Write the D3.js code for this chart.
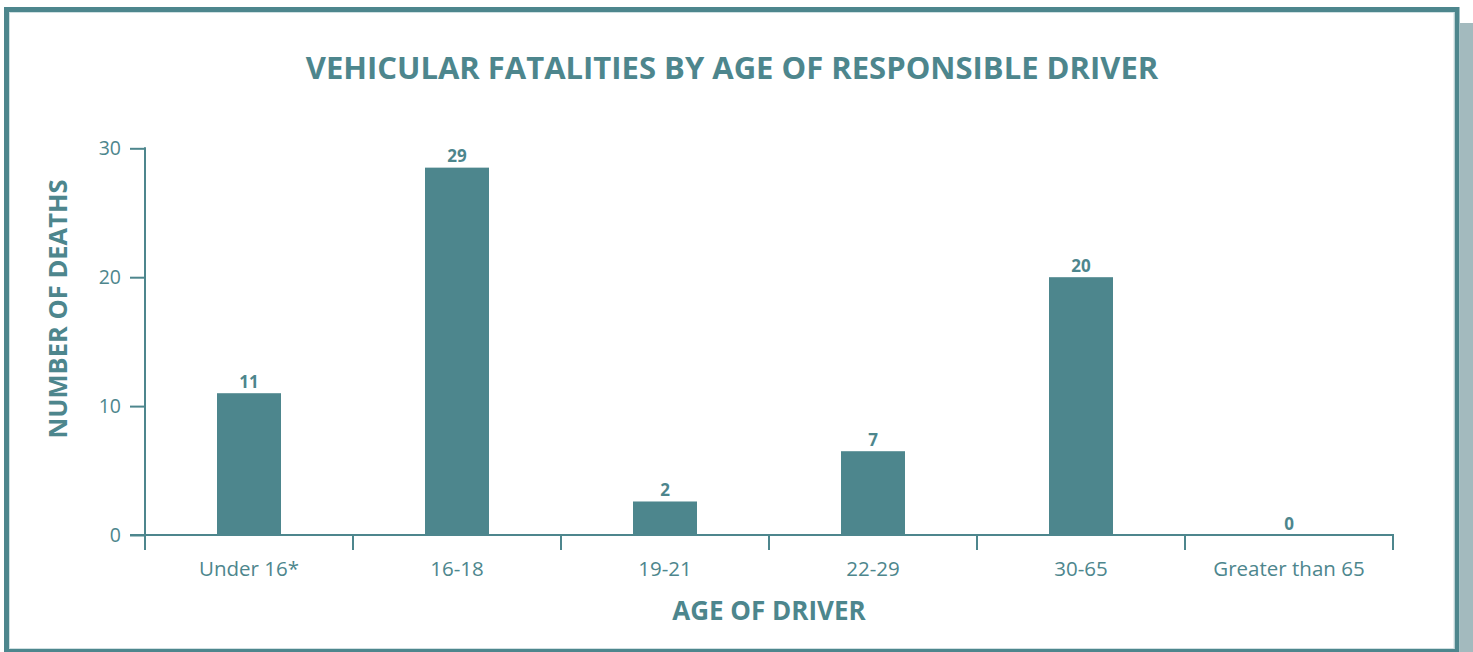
<!DOCTYPE html>
<html>
<head>
<meta charset="utf-8">
<script src="https://cdn.jsdelivr.net/npm/d3@7"></script>
<style>
  html, body { margin: 0; padding: 0; background: #ffffff; }
  svg { display: block; }
  text { font-family: "Open Sans", "Noto Sans", sans-serif; }
</style>
</head>
<body>
<svg id="chart" width="1473" height="652"></svg>
<script>
// ---- data ----
const categories = ["Under 16*", "16-18", "19-21", "22-29", "30-65", "Greater than 65"];
const barHeights = [11, 28.5, 2.6, 6.5, 20, 0];        // heights as drawn
const valueLabels = ["11", "29", "2", "7", "20", "0"];  // printed labels
const yTicks = [0, 10, 20, 30];
const titleText = "VEHICULAR FATALITIES BY AGE OF RESPONSIBLE DRIVER";
const xTitle = "AGE OF DRIVER";
const yTitle = "NUMBER OF DEATHS";

const teal = "#4d868d";
const svg = d3.select("#chart");

// frame + shadow
svg.append("rect").attr("x", 1460).attr("y", 23).attr("width", 13).attr("height", 629).attr("fill", "#a3babe");
svg.append("rect").attr("x", 6.5).attr("y", 9.5).attr("width", 1450.5).attr("height", 642)
  .attr("fill", "#ffffff").attr("stroke", teal).attr("stroke-width", 5);
svg.append("rect").attr("x", 9.5).attr("y", 12.5).attr("width", 1444.5).attr("height", 636)
  .attr("fill", "none").attr("stroke", "#cfe0e2").attr("stroke-width", 1);

// scales
const x = d3.scaleBand().domain(categories).range([145, 1393]).padding(0);
const y = d3.scaleLinear().domain([0, 30]).range([535, 148.3]);
const barW = 64;

// title
svg.append("text").attr("x", 732).attr("y", 79).attr("text-anchor", "middle")
  .attr("font-size", 31).attr("font-weight", 700).attr("fill", teal).text(titleText);

// y axis
const yAxis = d3.axisLeft(y).tickValues(yTicks).tickSize(15).tickPadding(9).tickFormat(d3.format("d"));
const gy = svg.append("g").attr("transform", "translate(145,0)").call(yAxis);
gy.select(".domain").remove();
gy.selectAll(".tick line").attr("stroke", teal).attr("stroke-width", 2);
gy.selectAll(".tick text").attr("fill", teal).attr("font-size", 19.5).attr("font-family", "'Open Sans', sans-serif");
svg.append("line").attr("x1", 145).attr("x2", 145).attr("y1", 147.3).attr("y2", 550)
  .attr("stroke", teal).attr("stroke-width", 2);

// bars
svg.append("g").selectAll("rect").data(categories).join("rect")
  .attr("x", d => x(d) + (x.bandwidth() - barW) / 2)
  .attr("width", barW)
  .attr("y", (d, i) => y(barHeights[i]))
  .attr("height", (d, i) => y(0) - y(barHeights[i]))
  .attr("fill", teal);

// x axis
svg.append("line").attr("x1", 130).attr("x2", 1394).attr("y1", 535).attr("y2", 535)
  .attr("stroke", teal).attr("stroke-width", 2);
const bounds = categories.map(c => x(c)).concat([x(categories[categories.length - 1]) + x.bandwidth()]);
svg.append("g").selectAll("line").data(bounds).join("line")
  .attr("x1", d => d).attr("x2", d => d).attr("y1", 534).attr("y2", 550)
  .attr("stroke", teal).attr("stroke-width", 2);
svg.append("g").selectAll("text").data(categories).join("text")
  .attr("x", d => x(d) + x.bandwidth() / 2).attr("y", 576)
  .attr("text-anchor", "middle").attr("font-size", 20.5).attr("fill", teal).text(d => d);

// value labels
svg.append("g").selectAll("text").data(categories).join("text")
  .attr("x", d => x(d) + x.bandwidth() / 2)
  .attr("y", (d, i) => y(barHeights[i]) - 5.5)
  .attr("text-anchor", "middle").attr("font-size", 17).attr("font-weight", 700).attr("fill", teal)
  .text((d, i) => valueLabels[i]);

// axis titles
svg.append("text").attr("x", 769).attr("y", 620).attr("text-anchor", "middle")
  .attr("font-size", 26).attr("font-weight", 700).attr("fill", teal).text(xTitle);
svg.append("text").attr("transform", "translate(67,309) rotate(-90)").attr("text-anchor", "middle")
  .attr("font-size", 25.5).attr("font-weight", 700).attr("fill", teal).text(yTitle);
</script>
</body>
</html>
